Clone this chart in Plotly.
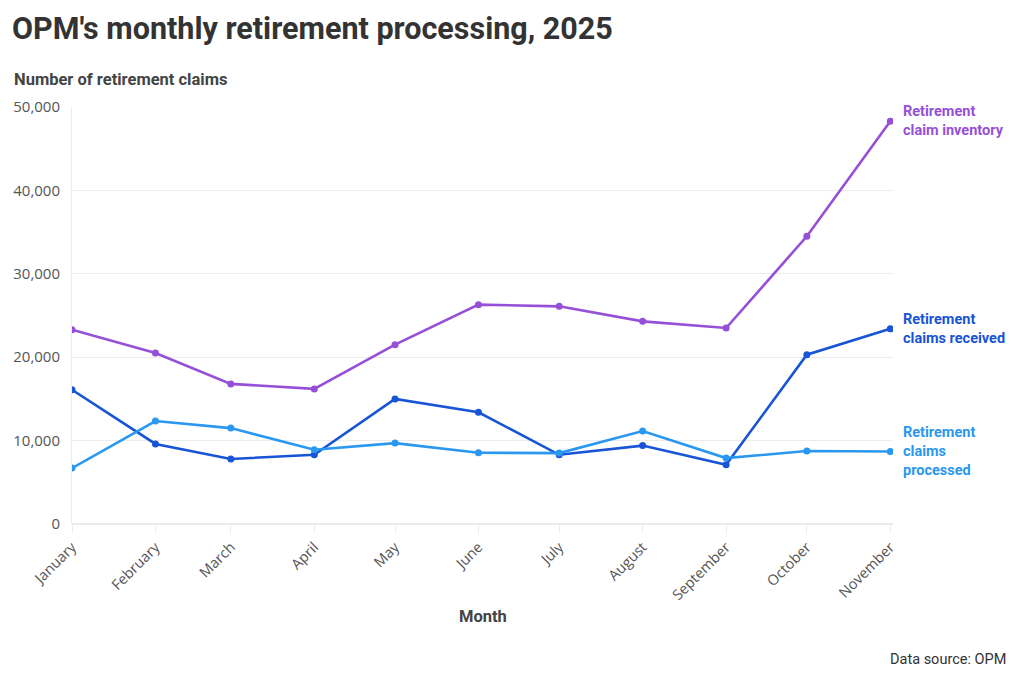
import plotly.graph_objects as go

months = ["January", "February", "March", "April", "May", "June", "July",
          "August", "September", "October", "November"]
dates = ["2025-01-01", "2025-02-01", "2025-03-01", "2025-04-01", "2025-05-01", "2025-06-01",
         "2025-07-01", "2025-08-01", "2025-09-01", "2025-10-01", "2025-11-01"]
inventory = [23300, 20500, 16800, 16200, 21500, 26300, 26100, 24300, 23500, 34500, 48300]
received = [16100, 9600, 7800, 8300, 15000, 13400, 8300, 9400, 7100, 20300, 23400]
processed = [6700, 12350, 11500, 8900, 9700, 8550, 8500, 11150, 7900, 8750, 8700]
series_names = ["Retirement claim inventory", "Retirement claims received", "Retirement claims processed"]
label_texts = ["Retirement<br>claim inventory", "Retirement<br>claims received",
               "Retirement<br>claims<br>processed"]
y_ticks = [0, 10000, 20000, 30000, 40000, 50000]

colors = ["#9650d8", "#1754d6", "#2a98f0"]
FONT = "Roboto"
TICKFONT = "Open Sans"

fig = go.Figure()
for name, vals, col in zip(series_names, [inventory, received, processed], colors):
    fig.add_trace(go.Scatter(x=dates, y=vals, name=name, mode="lines+markers",
                             line=dict(color=col, width=2.6),
                             marker=dict(color=col, size=7)))

for txt, vals, col in zip(label_texts, [inventory, received, processed], colors):
    fig.add_annotation(x=dates[-1], y=vals[-1], text="<b>" + txt + "</b>", showarrow=False,
                       xanchor="left", yanchor="middle", xshift=11, align="left",
                       font=dict(family=FONT, size=14.5, color=col))

fig.update_layout(
    width=1004, height=663,
    margin=dict(l=64, r=119, t=99, b=147),
    paper_bgcolor="white", plot_bgcolor="white",
    showlegend=False,
    font=dict(family=FONT, color="#444"),
    title=dict(text="<b>OPM's monthly retirement processing, 2025</b>",
               x=0.004, xanchor="left", y=0.970, yanchor="middle",
               font=dict(family=FONT, size=30.5, color="#333")),
)
fig.update_xaxes(
    type="date", range=["2025-01-01", "2025-11-02"],
    tickvals=dates, ticktext=months, tickangle=-45, automargin=False,
    tickfont=dict(family=TICKFONT, size=14.5, color="#555"),
    showgrid=False, zeroline=False, showline=False,
    ticks="outside", ticklen=8, tickcolor="#ebebeb",
)
fig.update_yaxes(
    range=[0, 50000], tickvals=y_ticks, tickformat=",", automargin=False,
    tickfont=dict(family=TICKFONT, size=15, color="#555"),
    showgrid=True, gridcolor="#ececec", zeroline=True, zerolinecolor="#ececec",
    showline=True, linecolor="#ececec", ticks="", ticklabelstandoff=8,
)
fig.add_annotation(xref="paper", yref="paper", x=-0.073, y=1.065, xanchor="left", yanchor="middle",
                   text="<b>Number of retirement claims</b>", showarrow=False,
                   font=dict(family=FONT, size=16.5, color="#444"))
fig.add_annotation(xref="paper", yref="paper", x=0.5, y=-0.221, xanchor="center", yanchor="middle",
                   text="<b>Month</b>", showarrow=False,
                   font=dict(family=FONT, size=16.5, color="#444"))
fig.add_annotation(xref="paper", yref="paper", x=1.140, y=-0.326, xanchor="right", yanchor="middle",
                   text="Data source: OPM", showarrow=False,
                   font=dict(family=FONT, size=14.5, color="#333"))

fig.write_html("out.html")
